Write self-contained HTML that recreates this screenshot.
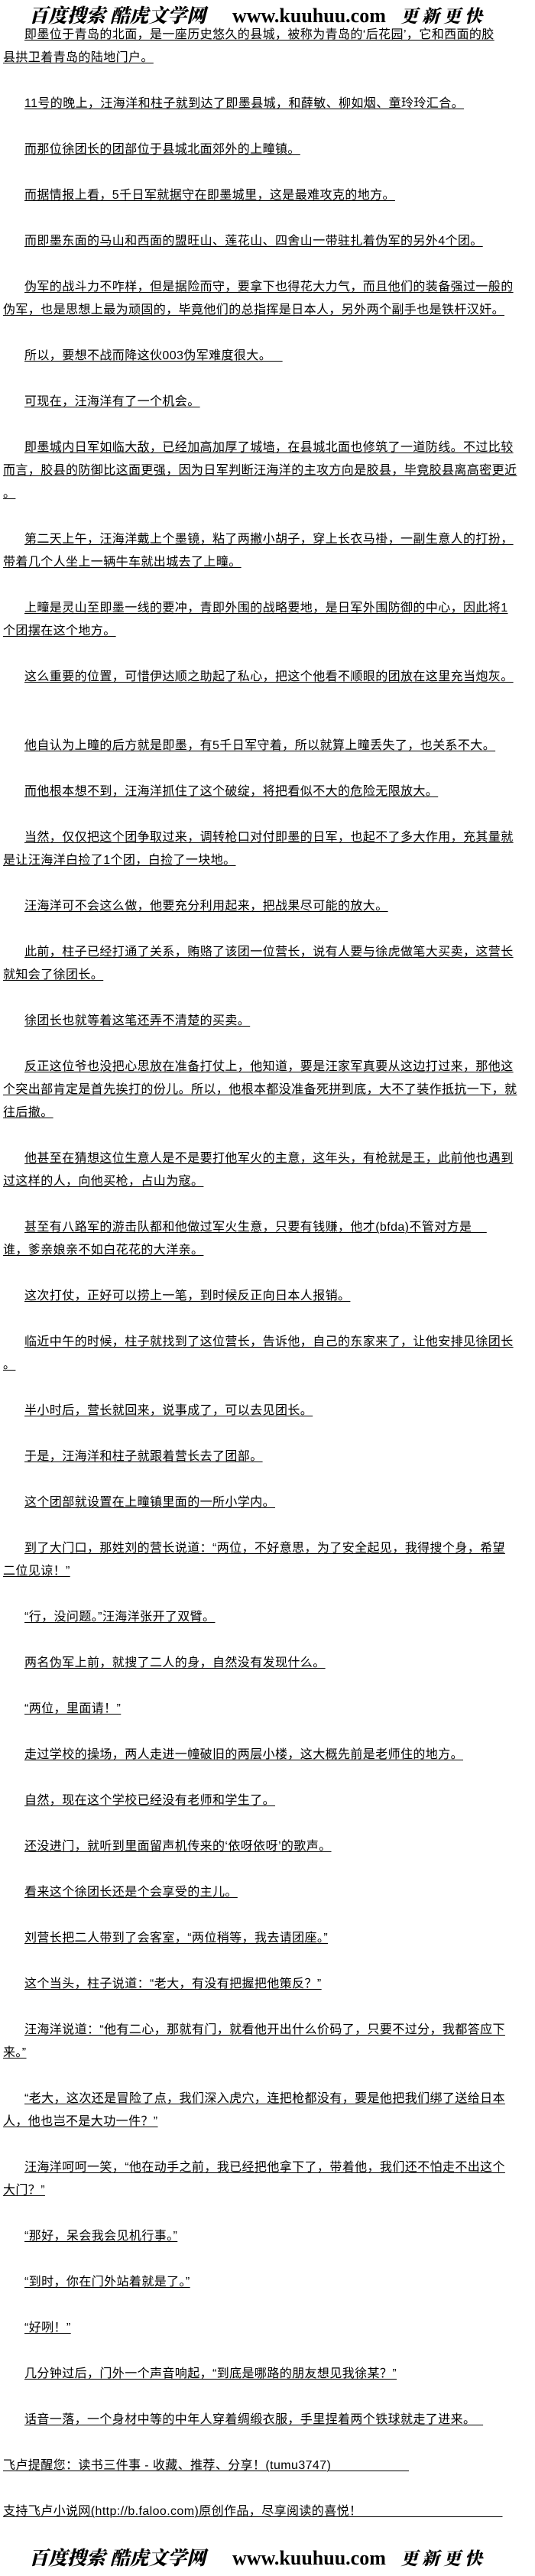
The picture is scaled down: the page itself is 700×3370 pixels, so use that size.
<!DOCTYPE html>
<html><head><meta charset="utf-8">
<style>
html,body{margin:0;padding:0;background:#fff;}
body{width:700px;height:3370px;position:relative;overflow:hidden;
 font-family:"Liberation Sans","Noto Sans CJK SC",sans-serif;color:#000;}
.banner{position:absolute;left:0;width:700px;height:34px;white-space:nowrap;}
.banner .cn{position:absolute;left:38px;top:3px;font-family:"Liberation Serif","Noto Serif CJK SC",serif;font-weight:900;font-style:italic;font-size:25px;letter-spacing:0px;line-height:30px;}
.banner .url{position:absolute;left:304px;top:2px;font-family:"Liberation Serif",serif;font-weight:bold;font-size:26px;line-height:30px;}
.banner .cn2{position:absolute;left:524px;top:4px;font-family:"Liberation Serif","Noto Serif CJK SC",serif;font-weight:900;font-style:italic;font-size:23px;letter-spacing:5px;line-height:28px;}
#txt{position:absolute;left:4px;top:31px;width:696px;font-size:16px;line-height:30px;letter-spacing:0.4px;white-space:nowrap;}
#txt p{margin:0 0 30px 0;}
#txt p.i{text-indent:28px;}
#txt p.x{margin-bottom:60px;}
#txt span{text-decoration:underline;text-decoration-thickness:1px;text-underline-offset:2px;}
</style></head><body>
<div class="banner" style="top:4px"><span class="cn">百度搜索 酷虎文学网</span><span class="url">www.kuuhuu.com</span><span class="cn2">更新更快</span></div>
<div id="txt">
<p class="i"><span> 即墨位于青岛的北面，是一座历史悠久的县城，被称为青岛的‘后花园’，它和西面的胶<br>县拱卫着青岛的陆地门户。</span></p>
<p class="i"><span> 11号的晚上，汪海洋和柱子就到达了即墨县城，和薛敏、柳如烟、童玲玲汇合。</span></p>
<p class="i"><span> 而那位徐团长的团部位于县城北面郊外的上疃镇。</span></p>
<p class="i"><span> 而据情报上看，5千日军就据守在即墨城里，这是最难攻克的地方。</span></p>
<p class="i"><span> 而即墨东面的马山和西面的盟旺山、莲花山、四舍山一带驻扎着伪军的另外4个团。</span></p>
<p class="i"><span> 伪军的战斗力不咋样，但是据险而守，要拿下也得花大力气，而且他们的装备强过一般的<br>伪军，也是思想上最为顽固的，毕竟他们的总指挥是日本人，另外两个副手也是铁杆汉奸。</span></p>
<p class="i"><span> 所以，要想不战而降这伙003伪军难度很大。&nbsp;&nbsp;&nbsp;</span></p>
<p class="i"><span> 可现在，汪海洋有了一个机会。</span></p>
<p class="i"><span> 即墨城内日军如临大敌，已经加高加厚了城墙，在县城北面也修筑了一道防线。不过比较<br>而言，胶县的防御比这面更强，因为日军判断汪海洋的主攻方向是胶县，毕竟胶县离高密更近<br>。</span></p>
<p class="i"><span> 第二天上午，汪海洋戴上个墨镜，粘了两撇小胡子，穿上长衣马褂，一副生意人的打扮，<br>带着几个人坐上一辆牛车就出城去了上疃。</span></p>
<p class="i"><span> 上疃是灵山至即墨一线的要冲，青即外围的战略要地，是日军外围防御的中心，因此将1<br>个团摆在这个地方。</span></p>
<p class="i x"><span> 这么重要的位置，可惜伊达顺之助起了私心，把这个他看不顺眼的团放在这里充当炮灰。</span></p>
<p class="i"><span> 他自认为上疃的后方就是即墨，有5千日军守着，所以就算上疃丢失了，也关系不大。</span></p>
<p class="i"><span> 而他根本想不到，汪海洋抓住了这个破绽，将把看似不大的危险无限放大。</span></p>
<p class="i"><span> 当然，仅仅把这个团争取过来，调转枪口对付即墨的日军，也起不了多大作用，充其量就<br>是让汪海洋白捡了1个团，白捡了一块地。</span></p>
<p class="i"><span> 汪海洋可不会这么做，他要充分利用起来，把战果尽可能的放大。</span></p>
<p class="i"><span> 此前，柱子已经打通了关系，贿赂了该团一位营长，说有人要与徐虎做笔大买卖，这营长<br>就知会了徐团长。</span></p>
<p class="i"><span> 徐团长也就等着这笔还弄不清楚的买卖。</span></p>
<p class="i"><span> 反正这位爷也没把心思放在准备打仗上，他知道，要是汪家军真要从这边打过来，那他这<br>个突出部肯定是首先挨打的份儿。所以，他根本都没准备死拼到底，大不了装作抵抗一下，就<br>往后撤。</span></p>
<p class="i"><span> 他甚至在猜想这位生意人是不是要打他军火的主意，这年头，有枪就是王，此前他也遇到<br>过这样的人，向他买枪，占山为寇。</span></p>
<p class="i"><span> 甚至有八路军的游击队都和他做过军火生意，只要有钱赚，他才(bfda)不管对方是&nbsp;&nbsp;&nbsp;&nbsp;<br>谁，爹亲娘亲不如白花花的大洋亲。</span></p>
<p class="i"><span> 这次打仗，正好可以捞上一笔，到时候反正向日本人报销。</span></p>
<p class="i"><span> 临近中午的时候，柱子就找到了这位营长，告诉他，自己的东家来了，让他安排见徐团长<br>。</span></p>
<p class="i"><span> 半小时后，营长就回来，说事成了，可以去见团长。</span></p>
<p class="i"><span> 于是，汪海洋和柱子就跟着营长去了团部。</span></p>
<p class="i"><span> 这个团部就设置在上疃镇里面的一所小学内。</span></p>
<p class="i"><span> 到了大门口，那姓刘的营长说道：“两位，不好意思，为了安全起见，我得搜个身，希望<br>二位见谅！”</span></p>
<p class="i"><span> “行，没问题。”汪海洋张开了双臂。</span></p>
<p class="i"><span> 两名伪军上前，就搜了二人的身，自然没有发现什么。</span></p>
<p class="i"><span> “两位，里面请！”</span></p>
<p class="i"><span> 走过学校的操场，两人走进一幢破旧的两层小楼，这大概先前是老师住的地方。</span></p>
<p class="i"><span> 自然，现在这个学校已经没有老师和学生了。</span></p>
<p class="i"><span> 还没进门，就听到里面留声机传来的‘依呀依呀’的歌声。</span></p>
<p class="i"><span> 看来这个徐团长还是个会享受的主儿。</span></p>
<p class="i"><span> 刘营长把二人带到了会客室，“两位稍等，我去请团座。”</span></p>
<p class="i"><span> 这个当头，柱子说道：“老大，有没有把握把他策反？”</span></p>
<p class="i"><span> 汪海洋说道：“他有二心，那就有门，就看他开出什么价码了，只要不过分，我都答应下<br>来。”</span></p>
<p class="i"><span> “老大，这次还是冒险了点，我们深入虎穴，连把枪都没有，要是他把我们绑了送给日本<br>人，他也岂不是大功一件？”</span></p>
<p class="i"><span> 汪海洋呵呵一笑，“他在动手之前，我已经把他拿下了，带着他，我们还不怕走不出这个<br>大门？”</span></p>
<p class="i"><span> “那好，呆会我会见机行事。”</span></p>
<p class="i"><span> “到时，你在门外站着就是了。”</span></p>
<p class="i"><span> “好咧！”</span></p>
<p class="i"><span> 几分钟过后，门外一个声音响起，“到底是哪路的朋友想见我徐某？”</span></p>
<p class="i"><span> 话音一落，一个身材中等的中年人穿着绸缎衣服，手里捏着两个铁球就走了进来。&nbsp;&nbsp;</span></p>
<p><span>飞卢提醒您：读书三件事 - 收藏、推荐、分享！(tumu3747)&nbsp;&nbsp;&nbsp;&nbsp;&nbsp;&nbsp;&nbsp;&nbsp;&nbsp;&nbsp;&nbsp;&nbsp;&nbsp;&nbsp;&nbsp;&nbsp;&nbsp;&nbsp;&nbsp;&nbsp;&nbsp;</span></p>
<p><span>支持飞卢小说网(http://b.faloo.com)原创作品，尽享阅读的喜悦！&nbsp;&nbsp;&nbsp;&nbsp;&nbsp;&nbsp;&nbsp;&nbsp;&nbsp;&nbsp;&nbsp;&nbsp;&nbsp;&nbsp;&nbsp;&nbsp;&nbsp;&nbsp;&nbsp;&nbsp;&nbsp;&nbsp;&nbsp;&nbsp;&nbsp;&nbsp;&nbsp;&nbsp;&nbsp;&nbsp;&nbsp;&nbsp;&nbsp;&nbsp;&nbsp;&nbsp;&nbsp;&nbsp;</span></p>
</div>
<div class="banner" style="top:3330px"><span class="cn">百度搜索 酷虎文学网</span><span class="url">www.kuuhuu.com</span><span class="cn2">更新更快</span></div>
</body></html>
